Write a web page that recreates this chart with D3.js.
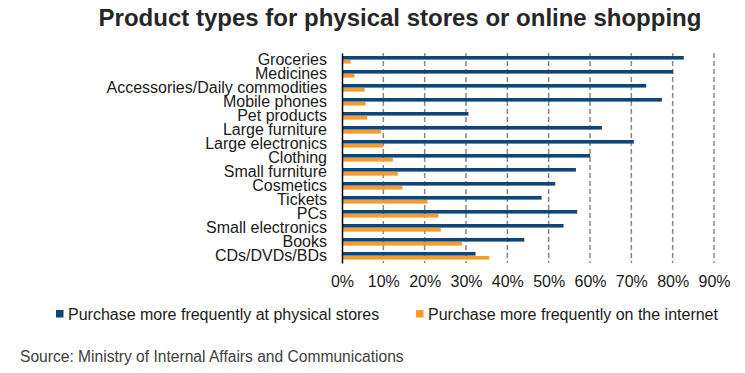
<!DOCTYPE html>
<html>
<head>
<meta charset="utf-8">
<script src="https://cdn.jsdelivr.net/npm/d3@7"></script>
<style>
  html, body { margin: 0; padding: 0; background: #fff; }
  svg { display: block; font-family: "Liberation Sans", Arial, sans-serif; }
</style>
</head>
<body>
<svg id="chart" width="745" height="373"></svg>
<script>
// Product categories, top to bottom
const categories = [
  "Groceries", "Medicines", "Accessories/Daily commodities", "Mobile phones",
  "Pet products", "Large furniture", "Large electronics", "Clothing",
  "Small furniture", "Cosmetics", "Tickets", "PCs", "Small electronics",
  "Books", "CDs/DVDs/BDs"
];
// Share of respondents (%) who buy more often at physical stores
const physicalStores = [82.7, 80.1, 73.6, 77.4, 30.6, 62.9, 70.6, 60.0, 56.6, 51.6, 48.3, 56.9, 53.6, 44.1, 32.3];
// Share of respondents (%) who buy more often online
const online = [2.1, 3.0, 5.5, 5.7, 6.1, 9.4, 9.9, 12.3, 13.5, 14.6, 20.7, 23.3, 23.9, 29.0, 35.6];
// Axis ticks (%)
const xTicks = [0, 10, 20, 30, 40, 50, 60, 70, 80, 90];

const seriesNames = ["Purchase more frequently at physical stores", "Purchase more frequently on the internet"];
const colors = ["#0e4677", "#fc9a26"];

const svg = d3.select("#chart");
const plot = { left: 342, right: 714, top: 53, bottom: 263 };

const x = d3.scaleLinear().domain([0, 90]).range([plot.left, plot.right]);
const y = d3.scaleBand().domain(categories).range([plot.top, plot.bottom]);
const sub = d3.scaleBand().domain([0, 1]).range([y.bandwidth() / 2 - 4, y.bandwidth() / 2 + 4]);

// Title
svg.append("text")
  .attr("x", 400).attr("y", 25.5)
  .attr("text-anchor", "middle")
  .attr("font-size", 24).attr("font-weight", "bold")
  .attr("fill", "#262626")
  .text("Product types for physical stores or online shopping");

// Dashed vertical gridlines
svg.append("g")
  .selectAll("line")
  .data(xTicks.filter(d => d > 0))
  .join("line")
  .attr("x1", d => x(d)).attr("x2", d => x(d))
  .attr("y1", plot.top).attr("y2", plot.bottom)
  .attr("stroke", "#868686").attr("stroke-width", 1.5)
  .attr("stroke-dasharray", "5,3");

// Bars
const rows = svg.append("g")
  .selectAll("g")
  .data(categories)
  .join("g")
  .attr("transform", d => `translate(0,${y(d)})`);

[physicalStores, online].forEach((vals, s) => {
  rows.append("rect")
    .attr("x", x(0))
    .attr("y", (d, i) => sub(s))
    .attr("width", (d, i) => x(vals[i]) - x(0))
    .attr("height", sub.bandwidth() - 0.4)
    .attr("fill", colors[s]);
});

// Category axis
const yAxis = svg.append("g")
  .attr("transform", `translate(${plot.left},0)`)
  .call(d3.axisLeft(y).tickSize(0).tickPadding(15));
yAxis.select(".domain").attr("stroke", "#000").attr("stroke-width", 1.5);
yAxis.selectAll("text")
  .attr("font-size", 16).attr("fill", "#1a1a1a")
  .attr("font-family", "Liberation Sans, Arial, sans-serif");

// Value axis labels
const xAxis = svg.append("g")
  .attr("transform", `translate(0,${plot.bottom})`)
  .call(d3.axisBottom(x).tickValues(xTicks).tickFormat(d => d + "%").tickSize(0).tickPadding(0));
xAxis.select(".domain").remove();
xAxis.selectAll("text")
  .attr("y", 24).attr("dy", 0)
  .attr("font-size", 16).attr("fill", "#1a1a1a")
  .attr("font-family", "Liberation Sans, Arial, sans-serif");

// Legend
const legendPos = [56, 416];
seriesNames.forEach((name, i) => {
  const g = svg.append("g").attr("transform", `translate(${legendPos[i]},320)`);
  g.append("rect").attr("x", 0).attr("y", -10).attr("width", 7.5).attr("height", 7.5).attr("fill", colors[i]);
  g.append("text").attr("x", 12).attr("y", 0)
    .attr("font-size", 16).attr("fill", "#1a1a1a").text(name);
});

// Source note
svg.append("text")
  .attr("x", 20).attr("y", 361.5)
  .attr("font-size", 15.6).attr("fill", "#404040")
  .text("Source: Ministry of Internal Affairs and Communications");
</script>
</body>
</html>
